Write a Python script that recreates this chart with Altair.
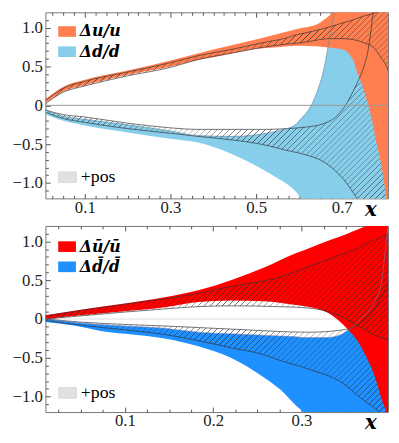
import altair as alt
import pandas as pd

# ---------------- top panel (valence) ----------------
TOP_XDOM = [0.008, 0.808]
YDOM = [-1.2, 1.2]

d_x  = [0.008, 0.05, 0.1, 0.2, 0.3, 0.364, 0.44, 0.5, 0.55, 0.571, 0.594, 0.605, 0.617, 0.633, 0.644, 0.656, 0.663, 0.668, 0.676, 0.69, 0.81]
d_lo = [-0.11, -0.20, -0.26, -0.35, -0.43, -0.48, -0.62, -0.78, -0.94, -1.01, -1.12, -1.2, -1.28, -1.4, -1.5, -1.5, -1.5, -1.5, -1.5, -1.5, -1.5]
d_hi = [-0.06, -0.14, -0.18, -0.25, -0.33, -0.39, -0.40, -0.38, -0.33, -0.30, -0.24, -0.17, -0.10, 0.05, 0.2, 0.42, 0.6, 0.76, 1.0, 1.4, 2.0]

u_x  = [0.008, 0.05, 0.1, 0.2, 0.3, 0.35, 0.4, 0.5, 0.55, 0.6, 0.647, 0.68, 0.702, 0.725, 0.737, 0.749, 0.760, 0.770, 0.779, 0.789, 0.797, 0.804, 0.81]
u_lo = [0.03, 0.18, 0.26, 0.39, 0.50, 0.57, 0.62, 0.73, 0.75, 0.77, 0.76, 0.74, 0.72, 0.60, 0.41, 0.24, 0.03, -0.18, -0.43, -0.68, -0.93, -1.2, -1.4]
u_hi = [0.08, 0.24, 0.33, 0.45, 0.58, 0.65, 0.72, 0.85, 0.92, 0.99, 1.06, 1.2, 1.3, 1.4, 1.45, 1.5, 1.55, 1.6, 1.65, 1.7, 1.75, 1.8, 1.85]

hu_x  = [0.008, 0.05, 0.1, 0.2, 0.3, 0.364, 0.45, 0.517, 0.571, 0.594, 0.62, 0.67, 0.70, 0.725, 0.75, 0.777, 0.786, 0.793, 0.80, 0.81]
hu_lo = [0.02, 0.17, 0.25, 0.38, 0.49, 0.59, 0.68, 0.75, 0.79, 0.80, 0.82, 0.86, 0.86, 0.85, 0.81, 0.73, 0.66, 0.60, 0.55, 0.42]
hu_hi = [0.06, 0.22, 0.31, 0.43, 0.55, 0.64, 0.73, 0.81, 0.87, 0.91, 0.94, 1.01, 1.06, 1.10, 1.15, 1.19, 1.21, 1.23, 1.25, 1.28]

hd_x  = [0.008, 0.05, 0.1, 0.2, 0.3, 0.364, 0.45, 0.52, 0.571, 0.617, 0.655, 0.686, 0.705, 0.721, 0.736, 0.751, 0.761, 0.768, 0.773, 0.78, 0.81]
hd_lo = [-0.09, -0.17, -0.22, -0.30, -0.36, -0.40, -0.45, -0.51, -0.58, -0.64, -0.72, -0.85, -0.96, -1.08, -1.2, -1.3, -1.4, -1.5, -1.5, -1.5, -1.5]
hd_hi = [-0.06, -0.12, -0.15, -0.23, -0.29, -0.31, -0.31, -0.31, -0.30, -0.28, -0.24, -0.15, -0.03, 0.12, 0.29, 0.49, 0.70, 0.96, 1.2, 1.5, 2.0]

# ---------------- bottom panel (sea) ----------------
BOT_XDOM = [0.01, 0.398]

db_x  = [0.01, 0.05, 0.071, 0.1, 0.145, 0.183, 0.22, 0.257, 0.276, 0.294, 0.302, 0.328, 0.343, 0.352, 0.358, 0.365, 0.376, 0.385, 0.391, 0.394, 0.398, 0.4]
db_lo = [-0.04, -0.10, -0.15, -0.19, -0.25, -0.35, -0.50, -0.75, -0.91, -1.12, -1.2, -1.5, -1.5, -1.5, -1.5, -1.5, -1.5, -1.5, -1.5, -1.5, -1.5, -1.5]
db_hi = [0.0, -0.05, -0.07, -0.09, -0.12, -0.17, -0.19, -0.21, -0.22, -0.23, -0.24, -0.24, -0.21, -0.15, -0.10, -0.02, 0.10, 0.28, 0.5, 0.8, 1.2, 1.4]

ub_x  = [0.01, 0.05, 0.1, 0.145, 0.183, 0.22, 0.257, 0.294, 0.31, 0.328, 0.343, 0.352, 0.365, 0.373, 0.380, 0.386, 0.391, 0.396, 0.4]
ub_lo = [0.0, 0.05, 0.10, 0.15, 0.22, 0.24, 0.23, 0.18, 0.15, 0.09, -0.03, -0.13, -0.31, -0.48, -0.65, -0.85, -1.04, -1.2, -1.4]
ub_hi = [0.05, 0.12, 0.20, 0.28, 0.37, 0.50, 0.66, 0.85, 0.92, 1.0, 1.06, 1.1, 1.16, 1.2, 1.24, 1.27, 1.3, 1.33, 1.35]

hub_x  = [0.01, 0.05, 0.1, 0.145, 0.183, 0.22, 0.272, 0.309, 0.347, 0.367, 0.373, 0.385, 0.397, 0.4]
hub_lo = [0.0, 0.04, 0.09, 0.13, 0.16, 0.17, 0.16, 0.14, 0.02, -0.11, -0.15, -0.22, -0.27, -0.29]
hub_hi = [0.04, 0.11, 0.19, 0.26, 0.33, 0.42, 0.53, 0.68, 0.84, 0.93, 0.97, 1.03, 1.09, 1.11]

hdb_x  = [0.01, 0.05, 0.1, 0.145, 0.183, 0.22, 0.257, 0.272, 0.309, 0.347, 0.367, 0.384, 0.4]
hdb_lo = [-0.02, -0.08, -0.14, -0.20, -0.28, -0.37, -0.46, -0.52, -0.65, -0.83, -1.02, -1.16, -1.3]
hdb_hi = [0.0, -0.04, -0.07, -0.09, -0.11, -0.13, -0.15, -0.16, -0.17, -0.14, -0.05, 0.15, 0.5]

TOP_NAMES = ["\u0394u/u", "\u0394d/d"]
TOP_COLORS = ["#FF7F50", "#87CEEB"]
BOT_NAMES = ["\u0394\u016b/\u016b", "\u0394d\u0304/d\u0304"]
BOT_COLORS = ["#FF0000", "#1E90FF"]
POS_LABEL = "+pos"

TOP_XMAJOR = [0.1, 0.3, 0.5, 0.7]
BOT_XMAJOR = [0.1, 0.2, 0.3]
YMAJOR = [-1.0, -0.5, 0.0, 0.5, 1.0]
YMINOR = [-1.1, -0.9, -0.8, -0.7, -0.6, -0.4, -0.3, -0.2, -0.1, 0.1, 0.2, 0.3, 0.4, 0.6, 0.7, 0.8, 0.9, 1.1]
TOP_XMINOR = [round(0.025 * i, 3) for i in range(1, 33) if round(0.025 * i, 3) not in TOP_XMAJOR]
BOT_XMINOR = [round(0.025 * i, 3) for i in range(1, 16) if round(0.025 * i, 3) not in BOT_XMAJOR]

W, H = 348, 189
RECT = "M-1,-0.6L1,-0.6L1,0.6L-1,0.6Z"
TICK = "#555"
SERIF = "'DejaVu Serif', 'Liberation Serif', serif"
ROMAN = "'Liberation Serif', 'Times New Roman', 'DejaVu Serif', serif"
HATCH_SPACING = 4.3   # px between hatch lines (style)
HATCH_FRAC = 0.22
HATCH_COLOR = "rgba(35,35,35,0.7)"
CLEAR = "rgba(35,35,35,0)"


def hatch_fill(xs, lo, hi, xdom):
    """Diagonal '///' hatch drawn as a striped linear gradient over the band's bbox."""
    wb = (max(xs) - min(xs)) * W / (xdom[1] - xdom[0])
    hb = (max(hi) - min(lo)) * H / (YDOM[1] - YDOM[0])
    s = (wb * wb + hb * hb) / (wb + hb)
    n = max(4, int(round((wb + hb) / (2 ** 0.5 * HATCH_SPACING))))
    stops = [alt.GradientStop(offset=0.0, color=CLEAR)]
    for k in range(n):
        a = k / n
        stops.append(alt.GradientStop(offset=a + (1 - HATCH_FRAC) / n, color=CLEAR))
        stops.append(alt.GradientStop(offset=a + (1 - HATCH_FRAC / 2) / n, color=HATCH_COLOR))
        stops.append(alt.GradientStop(offset=min(1.0, (k + 1) / n), color=CLEAR))
    return alt.LinearGradient(gradient="linear", x1=0, y1=0, x2=wb / s, y2=hb / s,
                              stops=stops)


def band(xs, lo, hi, name=None):
    df = pd.DataFrame({"x": xs, "lo": lo, "hi": hi})
    if name is not None:
        df["name"] = name
    return df


def ax(orient, values, size, labels=False, **kw):
    return alt.Axis(orient=orient, values=values, tickSize=size, offset=-size,
                    labels=labels, domain=False, grid=False, tickColor=TICK,
                    tickWidth=1, **kw)


def panel(xdom, xmajor, xminor, bands, names, colors, hatches, faint, legy, posy,
          zero_top, zero_color):
    xs = alt.Scale(domain=xdom, nice=False, zero=False)
    ys = alt.Scale(domain=YDOM, nice=False, zero=False)
    (blo_x, blo_lo, blo_hi), (top_x, top_lo, top_hi) = bands
    (hl_x, hl_lo, hl_hi), (hh_x, hh_lo, hh_hi) = hatches

    bottom_major = ax("bottom", xmajor, 5, labels=True, format=".1f",
                      labelFont=ROMAN, labelFontSize=17, labelColor="#222",
                      labelPadding=1, labelFlush=False, labelOverlap=False,
                      title="x", titleFont=SERIF, titleFontStyle="italic",
                      titleFontWeight="bold", titleFontSize=20, titleColor="black",
                      titleX=330, titleY=22, titleAlign="center", titleBaseline="alphabetic")
    left_major = ax("left", YMAJOR, 5, labels=True,
                    labelExpr="datum.value == 0 ? '0' : format(datum.value, '.1f')",
                    labelFont=ROMAN, labelFontSize=17, labelColor="#222",
                    labelPadding=3, labelFlush=False, labelOverlap=False, title=None)

    color = alt.Color("name:N", scale=alt.Scale(domain=names, range=colors),
                      legend=alt.Legend(orient="none", legendX=13, legendY=legy, title=None,
                                        direction="vertical", symbolType=RECT, symbolSize=324,
                                        symbolStrokeWidth=0, symbolOpacity=1,
                                        labelFont=SERIF, labelFontSize=16,
                                        labelFontStyle="italic", labelFontWeight="bold",
                                        labelColor="black", rowPadding=3.5, labelOffset=4,
                                        padding=0))
    fill = alt.Fill("lab:N", scale=alt.Scale(domain=[POS_LABEL], range=["#333333"]),
                    legend=alt.Legend(orient="none", legendX=13, legendY=posy, title=None,
                                      direction="vertical", symbolType=RECT, symbolSize=324,
                                      symbolStrokeColor="#000", symbolStrokeWidth=1,
                                      symbolOpacity=0.14, labelFont=ROMAN,
                                      labelFontSize=18, labelColor="black", labelOffset=4,
                                      padding=0))

    d_df = band(blo_x, blo_lo, blo_hi, names[1])
    u_df = band(top_x, top_lo, top_hi, names[0])
    hd_df = band(hl_x, hl_lo, hl_hi, None)
    hu_df = band(hh_x, hh_lo, hh_hi, None)
    leg_df = pd.DataFrame({"x": [xdom[0]], "lo": [0.0], "hi": [0.0], "lab": [POS_LABEL]})

    layers = []
    zero = alt.Chart(pd.DataFrame({"y": [0.0]})).mark_rule(
        color=zero_color, strokeWidth=1).encode(y=alt.Y("y:Q", scale=ys, axis=None))
    if not zero_top:
        layers.append(zero)

    layers.append(alt.Chart(d_df).mark_area(clip=True, interpolate="monotone").encode(
        x=alt.X("x:Q", scale=xs, axis=bottom_major),
        y=alt.Y("lo:Q", scale=ys, axis=left_major), y2="hi:Q", color=color))
    layers.append(alt.Chart(hd_df).mark_area(clip=True, interpolate="monotone",
                                             fill=hatch_fill(hl_x, hl_lo, hl_hi, xdom)).encode(
        x=alt.X("x:Q", scale=xs, axis=ax("bottom", xminor, 3, title=None)),
        y=alt.Y("lo:Q", scale=ys, axis=ax("left", YMINOR, 3, title=None)), y2="hi:Q"))
    layers.append(alt.Chart(u_df).mark_area(clip=True, interpolate="monotone").encode(
        x=alt.X("x:Q", scale=xs, axis=ax("top", xmajor, 5, title=None)),
        y=alt.Y("lo:Q", scale=ys, axis=ax("right", YMAJOR, 5, title=None)), y2="hi:Q", color=color))
    layers.append(alt.Chart(hu_df).mark_area(clip=True, interpolate="monotone",
                                             fill=hatch_fill(hh_x, hh_lo, hh_hi, xdom)).encode(
        x=alt.X("x:Q", scale=xs, axis=ax("top", xminor, 3, title=None)),
        y=alt.Y("lo:Q", scale=ys, axis=ax("right", YMINOR, 3, title=None)), y2="hi:Q"))
    layers.append(alt.Chart(leg_df).mark_area(clip=True).encode(
        x=alt.X("x:Q", scale=xs, axis=None), y=alt.Y("lo:Q", scale=ys, axis=None),
        y2="hi:Q", fill=fill))

    for df in (hd_df, hu_df):
        layers.append(alt.Chart(df).transform_fold(["lo", "hi"], as_=["edge", "val"]).mark_line(
            clip=True, interpolate="monotone", color="#333", strokeWidth=0.8, opacity=0.85).encode(
            x=alt.X("x:Q", scale=xs, axis=None), y=alt.Y("val:Q", scale=ys, axis=None),
            detail="edge:N"))
    layers.append(alt.Chart(d_df).mark_line(
        clip=True, interpolate="monotone", color=faint, strokeWidth=0.8, opacity=0.7).encode(
        x=alt.X("x:Q", scale=xs, axis=None), y=alt.Y("hi:Q", scale=ys, axis=None)))
    if zero_top:
        layers.append(zero)

    return alt.layer(*layers).resolve_axis(x="independent", y="independent").properties(
        width=W, height=H)


top = panel(TOP_XDOM, TOP_XMAJOR, TOP_XMINOR,
            [(d_x, d_lo, d_hi), (u_x, u_lo, u_hi)], TOP_NAMES, TOP_COLORS,
            [(hd_x, hd_lo, hd_hi), (hu_x, hu_lo, hu_hi)], "#5f7f99", 10.5, 158, True, "#999")
bottom = panel(BOT_XDOM, BOT_XMAJOR, BOT_XMINOR,
               [(db_x, db_lo, db_hi), (ub_x, ub_lo, ub_hi)], BOT_NAMES, BOT_COLORS,
               [(hdb_x, hdb_lo, hdb_hi), (hub_x, hub_lo, hub_hi)], "#8080b0", 12, 160, False, "#ddd")

chart = alt.vconcat(top, bottom, spacing=28, bounds="flush").resolve_scale(
    x="independent", y="independent", color="independent", fill="independent"
).properties(
    padding={"left": 3, "top": 0, "right": 2, "bottom": 2},
).configure_view(stroke="#777", strokeWidth=1)

chart.save("out.html", embed_options={"renderer": "svg", "actions": False})
